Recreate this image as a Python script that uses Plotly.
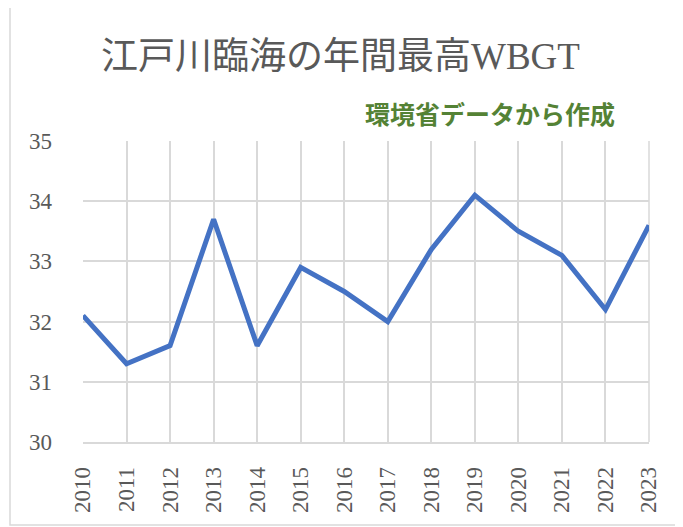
import plotly.graph_objects as go

years = ["2010", "2011", "2012", "2013", "2014", "2015", "2016",
         "2017", "2018", "2019", "2020", "2021", "2022", "2023"]
wbgt = [32.1, 31.3, 31.6, 33.7, 31.6, 32.9, 32.5, 32.0, 33.2, 34.1, 33.5, 33.1, 32.2, 33.6]
y_ticks = [30, 31, 32, 33, 34, 35]
title_text = "江戸川臨海の年間最高WBGT"
note_text = "環境省データから作成"

OFF = 8  # default page body margin
W, H = 683 - OFF, 527 - OFF
L, R, T, B = 83 - OFF, 34, 141 - OFF, 85
pw, ph = W - L - R, H - T - B

def px_x(x):
    return (x - OFF - L) / pw

def px_y(y):
    return (H - B - (y - OFF)) / ph

fig = go.Figure()
fig.add_trace(go.Scatter(
    x=years, y=wbgt, mode="lines",
    line=dict(color="#4472C4", width=5),
    hoverinfo="x+y", showlegend=False,
))

grid = "#d9d9d9"
serif = "'Liberation Serif', 'DejaVu Serif', serif"
title_font = "'Liberation Serif', 'Noto Sans CJK JP', serif"

fig.update_layout(
    width=W, height=H,
    margin=dict(l=L, r=R, t=T, b=B, pad=0),
    paper_bgcolor="white", plot_bgcolor="white",
    xaxis=dict(
        type="category", range=[0, len(years) - 1],
        showgrid=True, gridcolor=grid, gridwidth=1.5,
        showline=True, linecolor=grid, linewidth=1.5,
        ticks="", tickangle=-90,
        tickfont=dict(family=serif, size=23, color="#595959"),
        ticklabelstandoff=14,
        zeroline=False, fixedrange=True,
    ),
    yaxis=dict(
        range=[30, 35], tickvals=y_ticks,
        showgrid=True, gridcolor=grid, gridwidth=1.5,
        showline=False, ticks="",
        tickfont=dict(family=serif, size=23, color="#595959"),
        ticklabelstandoff=30,
        zeroline=False, fixedrange=True,
    ),
    annotations=[
        dict(text=title_text, xref="paper", yref="paper",
             x=px_x(340), y=px_y(57), xanchor="center", yanchor="middle",
             showarrow=False,
             font=dict(family=title_font, size=37, color="#595959")),
        dict(text=note_text, xref="paper", yref="paper",
             x=px_x(490), y=px_y(113), xanchor="center", yanchor="middle",
             showarrow=False,
             font=dict(family="'Noto Sans CJK JP', sans-serif", size=25,
                       color="#548235", weight="bold")),
    ],
    shapes=[
        dict(type="rect", xref="paper", yref="paper",
             x0=px_x(10), x1=px_x(677), y0=px_y(525), y1=px_y(6),
             line=dict(color="#d9d9d9", width=1.5), layer="below"),
        dict(type="line", xref="paper", yref="paper",
             x0=1, x1=1, y0=0, y1=1,
             line=dict(color=grid, width=1.5), layer="below"),
    ],
)

fig.write_html("out.html")
